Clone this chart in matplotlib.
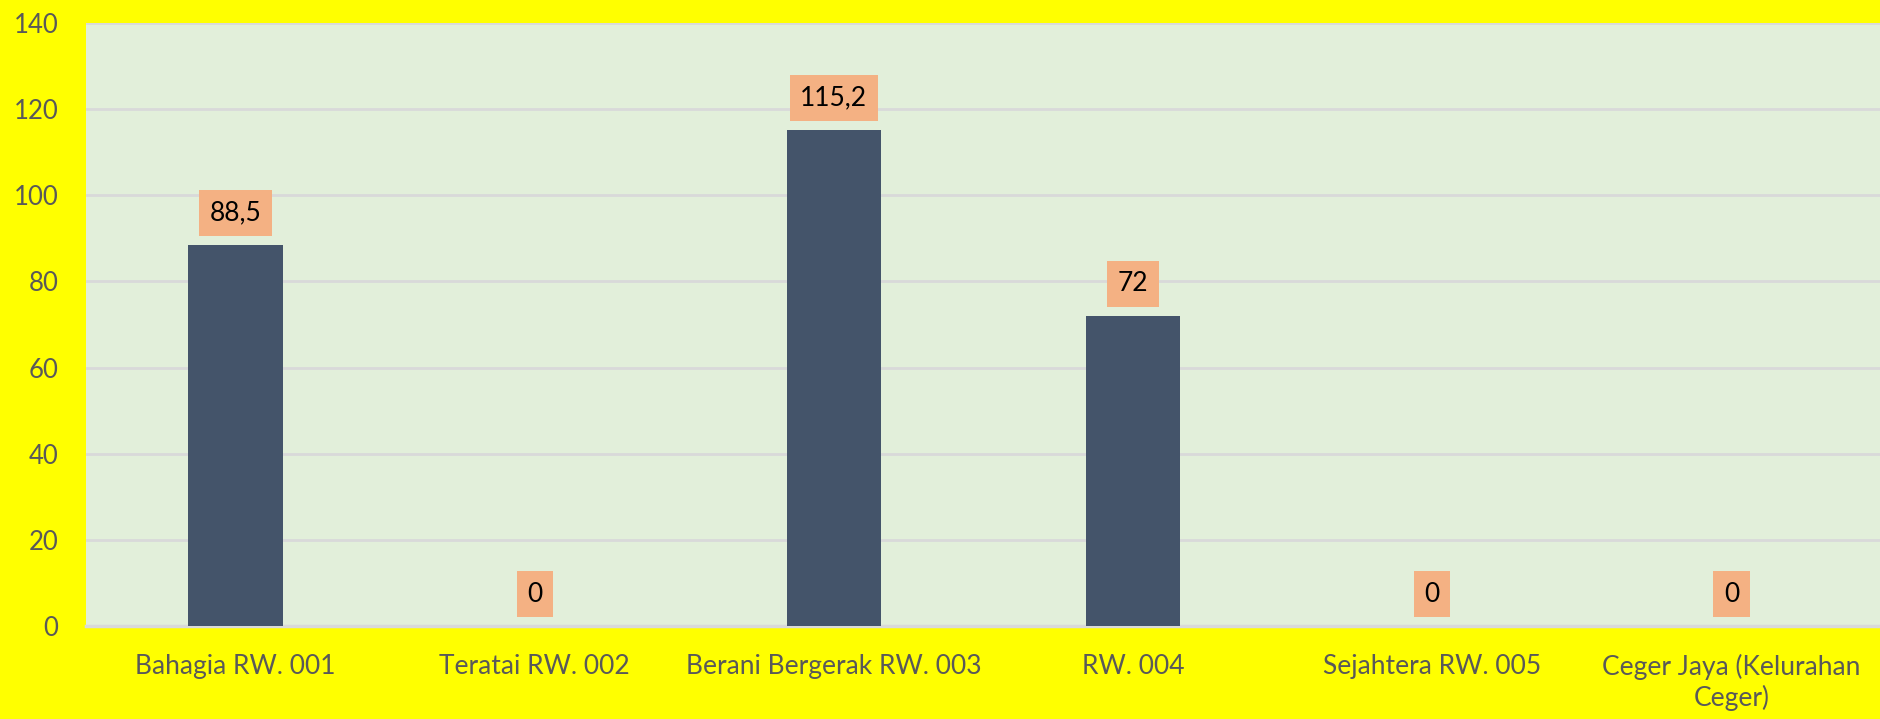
import matplotlib
matplotlib.use("Agg")
import matplotlib.pyplot as plt

# data
categories = ["Bahagia RW. 001", "Teratai RW. 002", "Berani Bergerak RW. 003",
              "RW. 004", "Sejahtera RW. 005", "Ceger Jaya (Kelurahan\nCeger)"]
values = [88.5, 0, 115.2, 72, 0, 0]
value_labels = ["88,5", "0", "115,2", "72", "0", "0"]
yticks = [0, 20, 40, 60, 80, 100, 120, 140]

plt.rcParams['font.family'] = ['Lato', 'DejaVu Sans']

fig = plt.figure(figsize=(18.81, 7.19), dpi=100, facecolor='#FFFF00')
ax = fig.add_axes([86/1881, 93/719, 1795/1881, 603/719])
ax.set_facecolor('#E2EFDA')

x = range(len(categories))
bars = ax.bar(x, values, width=0.315, color='#44546A', zorder=3)

for xi, v, lab in zip(x, values, value_labels):
    ax.annotate(lab, (xi, v), xytext=(0, 23), textcoords='offset points',
                ha='center', va='center', fontsize=19, color='black', zorder=4,
                bbox=dict(boxstyle='square,pad=0.4', fc='#F4B183', ec='none'))

ax.set_xlim(-0.5, len(categories) - 0.5)
ax.set_ylim(0, 140)
ax.set_yticks(yticks)
ax.set_xticks(list(x))
ax.set_xticklabels(categories, linespacing=1.25)
ax.tick_params(axis='y', length=0, pad=20, labelsize=18.5, labelcolor='#595959')
ax.tick_params(axis='x', length=0, pad=20, labelsize=19, labelcolor='#595959')
ax.yaxis.grid(True, color='#D9D9D9', linewidth=2, zorder=0)
ax.set_axisbelow(True)
for s in ['top', 'right', 'left']:
    ax.spines[s].set_visible(False)
ax.spines['bottom'].set_color('#D9D9D9')
ax.spines['bottom'].set_linewidth(2.5)

fig.savefig('out.png', dpi=100, facecolor=fig.get_facecolor())
